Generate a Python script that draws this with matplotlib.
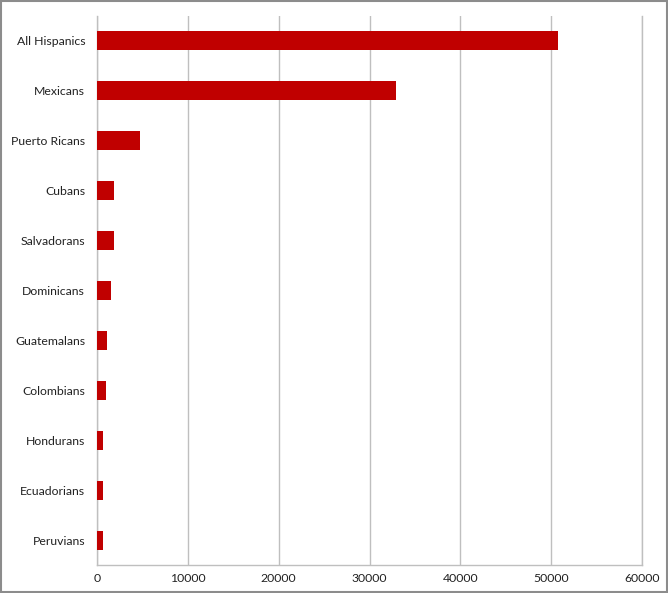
import matplotlib.pyplot as plt
from matplotlib.patches import Rectangle

# Data (thousands)
groups = ['All Hispanics', 'Mexicans', 'Puerto Ricans', 'Cubans', 'Salvadorans',
          'Dominicans', 'Guatemalans', 'Colombians', 'Hondurans', 'Ecuadorians', 'Peruvians']
population = [50730, 32916, 4683, 1884, 1827, 1509, 1108, 972, 702, 645, 609]
xticks = [0, 10000, 20000, 30000, 40000, 50000, 60000]

plt.rcParams['font.family'] = ['Lato', 'DejaVu Sans']

fig = plt.figure(figsize=(6.68, 5.93), dpi=100)
ax = fig.add_axes([97 / 668, 1 - 565 / 593, 545 / 668, 549 / 593])

ypos = list(range(len(groups)))
ax.barh(ypos, population, height=0.38, color='#C00000', zorder=3)

ax.set_xlim(0, 60000)
ax.set_ylim(len(groups) - 0.5, -0.5)
ax.set_xticks(xticks)
ax.set_xticklabels([str(t) for t in xticks])
ax.set_yticks(ypos)
ax.set_yticklabels(groups)
ax.tick_params(axis='both', length=0, labelsize=8.8, colors='#222222')
ax.tick_params(axis='y', pad=8.5)
ax.tick_params(axis='x', pad=6)

ax.grid(axis='x', color='#BFBFBF', linewidth=1, zorder=0)
ax.spines['top'].set_visible(False)
for side in ['left', 'bottom', 'right']:
    ax.spines[side].set_color('#BFBFBF')
    ax.spines[side].set_linewidth(1)

fig.patches.append(Rectangle((0.001, 0.001), 0.997, 0.997, transform=fig.transFigure,
                             fill=False, edgecolor='#8C8C8C', linewidth=1.5))

fig.savefig('out.png', dpi=100)
